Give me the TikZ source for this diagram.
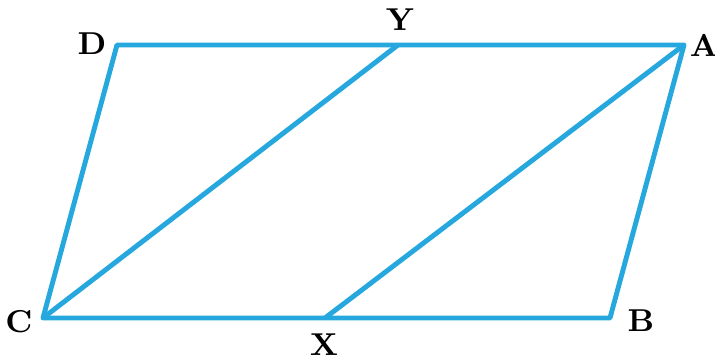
\documentclass[tikz,border=0pt]{standalone}
\usepackage{tikz}
\usetikzlibrary{calc, positioning}
\definecolor{edgeblue}{RGB}{38,168,222}
\tikzset{
  side/.style={line width=1.4pt, edgeblue, line join=round},
  vlabel/.style={font=\bfseries\small, inner sep=0pt}
}

\begin{document}
\begin{tikzpicture}[x=0.01cm, y=-0.01cm]
  \useasboundingbox (0,0) rectangle (715,359);
  % corners of the parallelogram
  \coordinate (D) at (117, 45);
  \coordinate (A) at (684, 45);
  \coordinate (B) at (610,318);
  \coordinate (C) at ( 43,318);
  % points on the long sides
  \coordinate (Y) at (398, 45);
  \coordinate (X) at (325,318);
  % outline and the two segments
  \draw[side] (D) -- (A) -- (B) -- (C) -- cycle;
  \draw[side] (C) -- (Y);
  \draw[side] (X) -- (A);
  % letters
  \node[vlabel] (lD) at ( 92, 44) {D};
  \node[vlabel] (lY) at (400, 20) {Y};
  \node[vlabel] (lA) at (704, 45) {A};
  \node[vlabel] (lC) at ( 19,322) {C};
  \node[vlabel] (lX) at (324,345) {X};
  \node[vlabel] (lB) at (641,321) {B};
\end{tikzpicture}
\end{document}
